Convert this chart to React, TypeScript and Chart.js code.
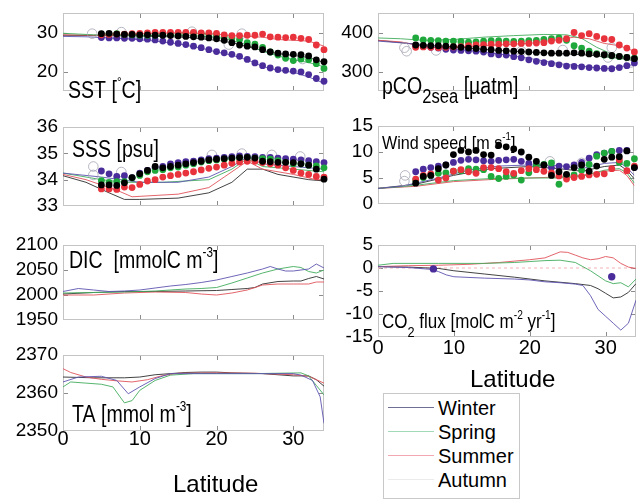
import React, { useEffect, useRef } from "react";
import { Chart, registerables } from "chart.js";
Chart.register(...registerables);

const FONT = '"Liberation Sans", Arial, Helvetica, sans-serif';

const SEASONS = ["Winter", "Spring", "Summer", "Autumn"];
const DOT_COLORS = ["#4b2c9b", "#1fa83c", "#e8323c", "#000000"];
const LINE_COLORS = ["#5e55b0", "#43ad5e", "#e0535b", "#2e2e2e"];
const LEGEND_COLORS = ["#6f6f93", "#a2d9b8", "#f2a8b0", "#ebebeb"];

const X_TICKS = [0, 10, 20, 30];
const LAT_OBS = [5, 6, 7, 8, 9, 10, 11, 12, 13, 14, 15, 16, 17, 18, 19, 20, 21, 22, 23, 24, 25, 26, 27, 28, 29, 30, 31, 32, 33, 34];

// ---------- SST ----------
const SST_TICKS = [20, 30];
const SST_WINTER = [28.7, 28.6, 28.6, 28.5, 28.5, 28.4, 28.3, 28.1, 27.8, 27.5, 27.2, 26.9, 26.5, 26.1, 25.6, 25.1, 24.8, 24.4, 23.9, 23.1, 22.2, 21.5, 20.9, 20.5, 20.3, 20.1, 19.9, 19.2, 18.2, 17.5];
const SST_SPRING = [29.6, 29.6, 29.7, 29.5, 29.4, 29.3, 29.3, 29.3, 29.4, 29.5, 29.6, 29.7, 29.8, 29.7, 29.5, 29.2, 28.9, 28.6, 28.2, 27.4, 27.0, 26.2, 25.0, 24.2, 23.4, 22.8, 23.2, 23.0, 22.0, 20.8];
const SST_SUMMER = [29.4, 29.5, 29.6, 29.6, 29.7, 29.8, 29.9, 30.0, 30.0, 30.0, 30.0, 30.0, 30.0, 29.9, 29.9, 29.8, 29.4, 29.2, 29.2, 29.3, 29.3, 29.6, 28.9, 28.8, 28.7, 28.8, 28.5, 28.2, 26.8, 25.6];
const SST_AUTUMN = [29.7, 29.8, 29.6, 29.5, 29.5, 29.4, 29.4, 29.3, 29.3, 29.2, 29.1, 29.0, 28.9, 28.8, 28.6, 28.4, 28.0, 27.4, 26.8, 26.5, 26.3, 25.6, 25.0, 24.7, 24.5, 24.4, 24.3, 24.0, 23.0, 22.5];
const SST_OPEN = [[3.8, 29.7], [7.6, 30.1], [16.8, 30.2], [21.6, 26.9], [23.3, 29.7], [31.2, 23.2]];
const SST_LINE_W = [[0, 29.0], [3, 28.9], [6, 28.6], [9, 28.3], [12, 27.8], [15, 27.1], [18, 26.0], [20, 25.0], [22, 24.2], [24, 23.0], [26, 21.3], [28, 20.3], [30, 19.8], [32, 18.6], [34, 17.0]];
const SST_LINE_SP = [[0, 29.8], [2, 29.6], [4, 29.4], [8, 29.3], [12, 29.2], [16, 29.3], [20, 28.8], [22, 28.0], [24, 26.8], [26, 25.2], [28, 24.0], [30, 23.0], [32, 22.3], [34, 21.2]];
const SST_LINE_SU = [[0, 29.4], [4, 29.3], [8, 29.5], [12, 29.8], [16, 29.9], [20, 29.6], [22, 29.2], [24, 29.0], [26, 28.8], [28, 28.2], [30, 28.0], [32, 27.8], [34, 26.5]];
const SST_LINE_AU = [[0, 29.3], [4, 29.2], [8, 29.2], [12, 29.0], [16, 28.8], [20, 28.0], [22, 27.4], [24, 26.4], [26, 25.4], [28, 24.6], [30, 24.1], [32, 23.6], [34, 22.3]];

// ---------- pCO2 ----------
const PCO2_TICKS = [300, 400];
const PCO2_WINTER = [366, 364, 362, 360, 357, 355, 354, 353, 352, 350, 345, 343, 342, 338, 335, 330, 326, 323, 320, 317, 314, 313, 312, 310, 309, 308, 307, 310, 315, 322];
const PCO2_SPRING = [386, 381, 380, 379, 378, 378, 377, 375, 376, 378, 379, 379, 378, 377, 378, 379, 380, 382, 384, 386, 380, 366, 360, 352, 346, 342, 340, 338, 336, 334];
const PCO2_SUMMER = [362, 363, 362, 361, 362, 363, 364, 366, 368, 369, 370, 370, 371, 371, 372, 372, 373, 374, 378, 380, 384, 400, 392, 397, 390, 384, 382, 368, 360, 350];
const PCO2_AUTUMN = [368, 367, 366, 366, 365, 364, 362, 360, 359, 357, 356, 354, 353, 352, 351, 350, 349, 348, 347, 347, 347, 348, 347, 345, 344, 343, 341, 339, 336, 333];
const PCO2_OPEN = [[3.5, 361], [3.8, 352], [7.7, 354], [19, 352], [24.5, 355], [30.5, 336], [31, 361], [33.5, 323]];
const PCO2_LINE_W = [[0, 378], [4, 372], [8, 362], [12, 354], [16, 345], [20, 334], [24, 320], [28, 312], [30, 306], [32, 312], [34, 318]];
const PCO2_LINE_SP = [[0, 386], [3, 384], [6, 380], [10, 382], [14, 388], [18, 392], [22, 395], [25, 394], [27, 385], [29, 362], [31, 345], [34, 330]];
const PCO2_LINE_SU = [[0, 380], [3, 376], [5, 368], [8, 360], [12, 364], [16, 368], [20, 372], [24, 382], [26, 388], [28, 384], [30, 372], [32, 366], [34, 352]];
const PCO2_LINE_AU = [[0, 380], [4, 372], [8, 366], [12, 360], [16, 354], [20, 350], [24, 346], [28, 342], [30, 338], [32, 334], [34, 328]];

// ---------- SSS ----------
const SSS_TICKS = [33, 34, 35, 36];
const SSS_WINTER = [34.33, 34.22, 34.12, 34.15, 34.08, 34.25, 34.35, 34.45, 34.5, 34.6, 34.65, 34.68, 34.7, 34.75, 34.8, 34.82, 34.85, 34.87, 34.9, 34.88, 34.87, 34.85, 34.85, 34.82, 34.8, 34.78, 34.75, 34.72, 34.68, 34.65];
const SSS_SPRING = [33.96, 33.9, 33.92, 33.92, 34.06, 34.16, 34.3, 34.35, 34.38, 34.45, 34.48, 34.55, 34.6, 34.67, 34.72, 34.75, 34.78, 34.8, 34.82, 34.84, 34.82, 34.8, 34.78, 34.72, 34.65, 34.6, 34.6, 34.55, 34.52, 34.45];
const SSS_SUMMER = [33.65, 33.65, 33.63, 33.72, 33.7, 33.82, 33.95, 34.0, 34.1, 34.15, 34.2, 34.25, 34.3, 34.37, 34.43, 34.48, 34.55, 34.62, 34.67, 34.7, 34.7, 34.65, 34.6, 34.55, 34.45, 34.35, 34.25, 34.2, 34.12, 34.1];
const SSS_AUTUMN = [33.8, 33.8, 33.78, 33.88, 34.08, 34.22, 34.35, 34.5, 34.45, 34.5, 34.55, 34.6, 34.65, 34.7, 34.75, 34.78, 34.8, 34.82, 34.84, 34.85, 34.82, 34.7, 34.68, 34.66, 34.66, 34.65, 34.6, 34.55, 34.4, 34.02];
const SSS_OPEN = [[3.95, 34.5], [3.95, 34.18], [7.6, 34.29], [19.4, 34.94], [23.3, 34.99], [27.2, 34.94], [30.9, 34.88]];
const SSS_LINE_W = [[0, 34.25], [5, 34.1], [10, 33.9], [15, 33.9], [19, 34.1], [22, 34.5], [24, 34.85], [26, 34.6], [30, 34.5], [34, 34.4]];
const SSS_LINE_SP = [[0, 34.25], [5, 34.0], [8, 33.9], [13, 33.9], [19, 34.0], [22, 34.4], [24, 34.8], [26, 34.5], [30, 34.4], [34, 34.3]];
const SSS_LINE_SU = [[0, 34.2], [3, 34.0], [7, 33.6], [9, 33.35], [15, 33.45], [19, 33.7], [21, 34.1], [24, 34.7], [26, 34.4], [30, 34.2], [33, 34.0], [34, 34.0]];
const SSS_LINE_AU = [[0, 34.15], [3, 33.9], [6, 33.5], [8, 33.25], [10, 33.25], [15, 33.3], [19, 33.5], [22, 33.9], [24, 34.4], [26, 34.4], [28, 34.2], [32, 34.0], [34, 33.95]];

// ---------- Wind ----------
const WIND_TICKS = [0, 5, 10, 15];
const WIND_WINTER = [6.2, 6.7, 7.0, 7.3, 7.5, 8.0, 8.4, 8.6, 8.5, 8.3, 8.2, 8.4, 8.5, 8.6, 8.2, 7.8, 7.6, 7.4, 7.0, 7.3, 7.2, 7.5, 8.0, 8.8, 9.5, 9.8, 10.1, 10.3, 10.3, 7.0];
const WIND_SPRING = [4.6, 5.1, 5.5, 5.9, 6.0, 6.3, 6.4, 6.8, 6.7, 6.6, 5.3, 4.9, 5.3, 5.6, 4.6, 6.0, 7.4, 7.6, 7.9, 3.8, 5.5, 5.6, 6.5, 7.6, 9.2, 9.8, 10.1, 8.0, 7.8, 8.7];
const WIND_SUMMER = [4.8, 5.5, 5.8, 4.6, 5.0, 6.3, 6.6, 6.2, 5.9, 7.0, 7.0, 6.8, 6.2, 5.9, 6.4, 6.8, 6.6, 6.3, 6.0, 5.4, 4.8, 5.1, 5.3, 5.6, 5.7, 5.8, 6.8, 8.5, 6.4, 7.3];
const WIND_AUTUMN = [4.0, 5.3, 5.5, 6.8, 7.5, 9.5, 10.3, 10.0, 10.3, 9.5, 9.4, 11.3, 11.0, 10.6, 10.0, 9.0, 8.2, 7.5, 5.5, 6.2, 5.7, 7.0, 7.5, 6.3, 7.3, 8.6, 9.0, 9.1, 10.2, 7.0];
const WIND_OPEN = [[3.5, 4.4], [3.6, 5.5], [22.8, 8.2], [27.0, 7.9]];
const WIND_LINE_W = [[0, 3.0], [3, 3.4], [5, 4.0], [8, 5.0], [12, 6.5], [16, 7.3], [20, 7.5], [24, 7.4], [27, 6.8], [30, 7.8], [32, 8.0], [33, 7.0], [34, 5.5]];
const WIND_LINE_SP = [[0, 3.0], [3, 3.3], [5, 3.6], [10, 4.5], [15, 4.9], [20, 5.0], [24, 5.0], [27, 5.3], [30, 6.5], [32, 6.8], [33, 6.0], [34, 4.0]];
const WIND_LINE_SU = [[0, 3.0], [5, 3.4], [10, 4.3], [15, 4.7], [20, 5.0], [24, 5.2], [27, 5.5], [30, 6.3], [32, 6.5], [33, 5.5], [34, 3.5]];
const WIND_LINE_AU = [[0, 3.0], [5, 3.8], [10, 5.5], [15, 6.8], [20, 7.2], [24, 6.8], [27, 6.3], [30, 7.2], [32, 7.5], [33, 6.5], [34, 4.8]];

// ---------- DIC ----------
const DIC_TICKS = [1950, 2000, 2050, 2100];
const DIC_LINE_W = [[0, 2007], [2, 2013], [4, 2010], [6, 2007], [8, 2008], [10, 2010], [12, 2014], [14, 2018], [16, 2021], [18, 2025], [20, 2030], [22, 2037], [24, 2044], [26, 2052], [27, 2057], [28, 2052], [29, 2048], [30, 2048], [31, 2050], [32, 2052], [33, 2062], [34, 2054]];
const DIC_LINE_SP = [[0, 2004], [4, 2005], [8, 2006], [10, 2007], [12, 2008], [14, 2010], [16, 2012], [18, 2013], [20, 2015], [22, 2024], [24, 2034], [26, 2044], [28, 2052], [30, 2057], [31, 2055], [32, 2047], [33, 2044], [34, 2050]];
const DIC_LINE_SU = [[0, 2000], [4, 2000], [8, 2004], [12, 2006], [16, 2005], [18, 2002], [20, 2000], [22, 2004], [24, 2010], [26, 2020], [28, 2022], [30, 2022], [32, 2022], [33, 2026], [34, 2026]];
const DIC_LINE_AU = [[0, 2002], [4, 2005], [8, 2007], [12, 2007], [16, 2008], [20, 2009], [22, 2011], [24, 2013], [25, 2015], [26, 2022], [28, 2027], [30, 2028], [31, 2028], [32, 2033], [33, 2037], [34, 2032]];

// ---------- CO2 flux ----------
const FLUX_TICKS = [-15, -10, -5, 0, 5];
const FLUX_OBS_WINTER = [[7.3, -0.2], [30.8, -1.9]];
const FLUX_ZERO = [[0, 0], [34, 0]];
const FLUX_LINE_W = [[0, 0.3], [4, 0.1], [7, -0.3], [8, -0.8], [9, -1.5], [10, -1.9], [14, -2.2], [18, -2.4], [20, -2.6], [22, -3.0], [24, -3.2], [26, -3.5], [27, -3.8], [28, -6.0], [29, -9.0], [30, -10.5], [31, -12.0], [32, -13.5], [33, -12.0], [34, -7.0]];
const FLUX_LINE_SP = [[0, 0.6], [2, 1.0], [8, 1.0], [14, 1.0], [18, 1.2], [20, 1.4], [22, 1.6], [24, 1.7], [26, 1.2], [27, 0.3], [28, -0.6], [29, -1.7], [30, -2.8], [31, -3.4], [32, -3.2], [33, -4.1], [34, -2.4]];
const FLUX_LINE_SU = [[0, 0.3], [4, 0.5], [8, 0.6], [12, 0.8], [16, 1.2], [20, 1.8], [22, 2.2], [24, 3.5], [25, 3.4], [26, 2.8], [27, 2.2], [28, 1.8], [29, 2.0], [30, 2.5], [31, 2.2], [32, 1.0], [33, 0.2], [34, -0.1]];
const FLUX_LINE_AU = [[0, 0.3], [4, 0.2], [8, -0.1], [10, -0.6], [14, -1.3], [18, -2.0], [22, -2.8], [26, -3.4], [28, -3.8], [29, -4.5], [30, -5.5], [31, -6.5], [32, -6.3], [33, -5.3], [34, -3.4]];

// ---------- TA ----------
const TA_TICKS = [2350, 2360, 2370];
const TA_LINE_W = [[0, 2362.9], [2, 2364.2], [5, 2364.4], [7, 2363.3], [8.5, 2359.8], [10, 2361.6], [12, 2363.8], [14, 2365.1], [20, 2365.1], [30, 2365.1], [31, 2364.7], [32.5, 2363.3], [33.5, 2359.0], [34, 2352.0]];
const TA_LINE_SP = [[0, 2361.6], [1, 2362.9], [3, 2362.6], [5, 2362.3], [6.5, 2361.6], [8, 2357.4], [9, 2358.0], [10, 2360.7], [12, 2363.3], [14, 2364.7], [17, 2365.1], [25, 2365.1], [31, 2365.3], [32, 2364.5], [33, 2362.0], [34, 2359.5]];
const TA_LINE_SU = [[0, 2366.4], [1, 2365.4], [3, 2364.2], [5, 2363.6], [7, 2363.2], [9, 2362.9], [11, 2363.5], [13, 2364.6], [15, 2365.2], [20, 2365.3], [25, 2365.2], [30, 2364.8], [32, 2364.4], [33, 2363.5], [34, 2362.6]];
const TA_LINE_AU = [[0, 2364.2], [2, 2364.1], [4, 2364.0], [6, 2364.0], [8, 2364.0], [10, 2364.2], [12, 2364.8], [14, 2365.1], [16, 2365.4], [18, 2365.5], [20, 2365.5], [22, 2365.3], [24, 2365.2], [26, 2365.1], [28, 2364.8], [30, 2364.5], [32, 2364.5], [33, 2363.5], [34, 2361.8]];

type Part = string | { t: string; s?: number; dy?: number };
type TextItem = { x: number; y: number; size: number; sx?: number; parts: Part[] };
type Panel = {
  id: string;
  canvas: { x: number; y: number; w: number; h: number };
  plot: { l: number; t: number; r: number; b: number };
  yMin: number;
  yMax: number;
  yTicks: number[];
  showX: boolean;
  xPad?: number;
  dots?: number[][];
  lines: number[][][];
  open?: number[][];
  extraDots?: number[][];
  zero?: number[][];
  texts: TextItem[];
};

const PANELS: Panel[] = [
  {
    id: "sst", canvas: { x: 0, y: 0, w: 332, h: 119 }, plot: { l: 63, t: 13, r: 324, b: 105 },
    yMin: 15, yMax: 35, yTicks: SST_TICKS, showX: false,
    dots: [SST_WINTER, SST_SPRING, SST_SUMMER, SST_AUTUMN],
    lines: [SST_LINE_W, SST_LINE_SP, SST_LINE_SU, SST_LINE_AU], open: SST_OPEN,
    texts: [{ x: 68, y: 98, size: 23, sx: 0.85, parts: ["SST [", { t: "°", s: 0.6, dy: -11 }, "C]"] }],
  },
  {
    id: "pco2", canvas: { x: 330, y: 0, w: 310, h: 119 }, plot: { l: 378, t: 13, r: 637, b: 105 },
    yMin: 250, yMax: 450, yTicks: PCO2_TICKS, showX: false,
    dots: [PCO2_WINTER, PCO2_SPRING, PCO2_SUMMER, PCO2_AUTUMN],
    lines: [PCO2_LINE_W, PCO2_LINE_SP, PCO2_LINE_SU, PCO2_LINE_AU], open: PCO2_OPEN,
    texts: [{ x: 382, y: 94, size: 23, sx: 0.85, parts: ["pCO", { t: "2sea", s: 0.85, dy: 9 }, " [µatm]"] }],
  },
  {
    id: "sss", canvas: { x: 0, y: 113, w: 332, h: 121 }, plot: { l: 63, t: 127, r: 324, b: 220 },
    yMin: 33, yMax: 36, yTicks: SSS_TICKS, showX: false,
    dots: [SSS_WINTER, SSS_SPRING, SSS_SUMMER, SSS_AUTUMN],
    lines: [SSS_LINE_W, SSS_LINE_SP, SSS_LINE_SU, SSS_LINE_AU], open: SSS_OPEN,
    texts: [{ x: 72, y: 157, size: 23, sx: 0.85, parts: ["SSS [psu]"] }],
  },
  {
    id: "wind", canvas: { x: 330, y: 112, w: 310, h: 120 }, plot: { l: 378, t: 126, r: 637, b: 218 },
    yMin: 0, yMax: 15, yTicks: WIND_TICKS, showX: false,
    dots: [WIND_WINTER, WIND_SPRING, WIND_SUMMER, WIND_AUTUMN],
    lines: [WIND_LINE_W, WIND_LINE_SP, WIND_LINE_SU, WIND_LINE_AU], open: WIND_OPEN,
    texts: [{ x: 382, y: 149, size: 19, sx: 0.85, parts: ["Wind speed [m s", { t: "-1", s: 0.6, dy: -9 }, "]"] }],
  },
  {
    id: "dic", canvas: { x: 0, y: 231, w: 332, h: 117 }, plot: { l: 63, t: 245, r: 324, b: 334 },
    yMin: 1950, yMax: 2100, yTicks: DIC_TICKS, showX: false,
    lines: [DIC_LINE_W, DIC_LINE_SP, DIC_LINE_SU, DIC_LINE_AU],
    texts: [{ x: 69, y: 268, size: 23, sx: 0.85, parts: ["DIC  [mmolC m", { t: "-3", s: 0.6, dy: -11 }, "]"] }],
  },
  {
    id: "flux", canvas: { x: 330, y: 231, w: 310, h: 162 }, plot: { l: 378, t: 245, r: 637, b: 337 },
    yMin: -15, yMax: 5, yTicks: FLUX_TICKS, showX: true, xPad: 1,
    lines: [FLUX_LINE_W, FLUX_LINE_SP, FLUX_LINE_SU, FLUX_LINE_AU], extraDots: FLUX_OBS_WINTER, zero: FLUX_ZERO,
    texts: [
      { x: 382, y: 328, size: 20, sx: 0.85, parts: ["CO", { t: "2", s: 0.75, dy: 9 }, " flux [molC m", { t: "-2", s: 0.6, dy: -9 }, " yr", { t: "-1", s: 0.6, dy: -9 }, "]"] },
      { x: 470, y: 387, size: 24, parts: ["Latitude"] },
    ],
  },
  {
    id: "ta", canvas: { x: 0, y: 341, w: 332, h: 158 }, plot: { l: 63, t: 355, r: 324, b: 431 },
    yMin: 2350, yMax: 2370, yTicks: TA_TICKS, showX: true, xPad: -2,
    lines: [TA_LINE_W, TA_LINE_SP, TA_LINE_SU, TA_LINE_AU],
    texts: [
      { x: 72, y: 422, size: 23, sx: 0.85, parts: ["TA [mmol m", { t: "-3", s: 0.6, dy: -11 }, "]"] },
      { x: 173, y: 492, size: 24, parts: ["Latitude"] },
    ],
  },
];

const pts = (arr: number[][]) => arr.map(([x, y]) => ({ x, y }));

function makeBoxPlugin(p: Panel) {
  return {
    id: "panelBox",
    beforeDatasetsDraw(chart: any) {
      const { ctx, chartArea } = chart;
      const { left, top, right, bottom } = chartArea;
      const xs = chart.scales.x;
      const ys = chart.scales.y;
      ctx.save();
      ctx.lineWidth = 1;
      ctx.strokeStyle = "#c4c4c4";
      ctx.strokeRect(Math.round(left) + 0.5, Math.round(top) + 0.5, Math.round(right) - Math.round(left) - 1, Math.round(bottom) - Math.round(top) - 1);
      ctx.strokeStyle = "#8c8c8c";
      ctx.beginPath();
      X_TICKS.forEach((v) => {
        const px = Math.round(xs.getPixelForValue(v)) + 0.5;
        if (px <= left + 2 || px >= right - 2) return;
        ctx.moveTo(px, bottom - 1);
        ctx.lineTo(px, bottom - 5);
        ctx.moveTo(px, top + 1);
        ctx.lineTo(px, top + 5);
      });
      p.yTicks.forEach((v) => {
        const py = Math.round(ys.getPixelForValue(v)) + 0.5;
        if (py <= top + 2 || py >= bottom - 2) return;
        ctx.moveTo(left + 1, py);
        ctx.lineTo(left + 5, py);
        ctx.moveTo(right - 1, py);
        ctx.lineTo(right - 5, py);
      });
      ctx.stroke();
      ctx.restore();
    },
  };
}

function makeTextPlugin(p: Panel) {
  return {
    id: "panelText",
    afterDraw(chart: any) {
      const ctx = chart.ctx;
      p.texts.forEach((it) => {
        ctx.save();
        ctx.translate(it.x - p.canvas.x, it.y - p.canvas.y);
        ctx.scale(it.sx ?? 1, 1);
        let cx = 0;
        it.parts.forEach((raw) => {
          const part = typeof raw === "string" ? { t: raw } : raw;
          const size = it.size * (part.s ?? 1);
          ctx.font = `${size}px ${FONT}`;
          ctx.fillStyle = "#000";
          ctx.textAlign = "left";
          ctx.textBaseline = "alphabetic";
          ctx.fillText(part.t, cx, part.dy ?? 0);
          cx += ctx.measureText(part.t).width;
        });
        ctx.restore();
      });
    },
  };
}

function buildConfig(p: Panel): any {
  const datasets: any[] = [];
  p.lines.forEach((line, i) => {
    datasets.push({
      label: SEASONS[i] + " model",
      data: pts(line),
      showLine: true,
      borderColor: LINE_COLORS[i],
      borderWidth: 0.9,
      pointRadius: 0,
      tension: 0,
      order: 20 + i,
    });
  });
  if (p.zero) {
    datasets.push({
      label: "zero",
      data: pts(p.zero),
      showLine: true,
      borderColor: "#f4b4b8",
      borderWidth: 1,
      borderDash: [3, 3],
      pointRadius: 0,
      order: 30,
    });
  }
  if (p.open) {
    datasets.push({
      label: "open",
      data: pts(p.open),
      showLine: false,
      pointRadius: 4.8,
      pointBackgroundColor: "rgba(0,0,0,0)",
      pointBorderColor: "#a4a4b4",
      pointBorderWidth: 0.8,
      order: 10,
      clip: false,
    });
  }
  if (p.dots) {
    p.dots.forEach((vals, i) => {
      datasets.push({
        label: SEASONS[i],
        data: LAT_OBS.map((x, k) => ({ x, y: vals[k] })),
        showLine: false,
        pointRadius: 3.4,
        pointBackgroundColor: DOT_COLORS[i],
        pointBorderColor: DOT_COLORS[i],
        pointBorderWidth: 0,
        order: 3 - i,
        clip: false,
      });
    });
  }
  if (p.extraDots) {
    datasets.push({
      label: "Winter obs",
      data: pts(p.extraDots),
      showLine: false,
      pointRadius: 3.7,
      pointBackgroundColor: DOT_COLORS[0],
      pointBorderWidth: 0,
      order: 0,
    });
  }

  const c = p.canvas;
  return {
    type: "scatter",
    data: { datasets },
    options: {
      animation: false,
      responsive: false,
      maintainAspectRatio: false,
      devicePixelRatio: 1,
      events: [],
      layout: {
        padding: {
          left: 0,
          top: p.plot.t - c.y,
          right: c.x + c.w - p.plot.r,
          bottom: p.showX ? 0 : c.y + c.h - p.plot.b,
        },
      },
      plugins: { legend: { display: false }, tooltip: { enabled: false }, title: { display: false } },
      scales: {
        x: {
          type: "linear",
          min: 0,
          max: 34,
          display: p.showX,
          afterBuildTicks: (axis: any) => {
            axis.ticks = X_TICKS.map((v) => ({ value: v }));
          },
          afterFit: (axis: any) => {
            axis.height = c.y + c.h - p.plot.b;
          },
          grid: { display: false, drawTicks: false },
          border: { display: false },
          ticks: {
            color: "#000",
            font: { family: FONT, size: 20, lineHeight: 1 },
            padding: p.xPad ?? 0,
            maxRotation: 0,
            autoSkip: false,
            callback: (v: any) => String(v),
          },
        },
        y: {
          type: "linear",
          min: p.yMin,
          max: p.yMax,
          afterBuildTicks: (axis: any) => {
            axis.ticks = p.yTicks.map((v) => ({ value: v }));
          },
          afterFit: (axis: any) => {
            axis.width = p.plot.l - c.x;
          },
          grid: { display: false, drawTicks: true, tickLength: 5 },
          border: { display: false },
          ticks: {
            color: "#000",
            font: { family: FONT, size: 19, lineHeight: 1 },
            padding: 0,
            autoSkip: false,
            callback: (v: any) => String(v),
          },
        },
      },
    },
    plugins: [makeBoxPlugin(p), makeTextPlugin(p)],
  };
}

const LEGEND_ROWS = [409, 433, 457, 481];

export default function App() {
  const refs = useRef<(HTMLCanvasElement | null)[]>([]);
  useEffect(() => {
    const charts = PANELS.map((p, i) => new Chart(refs.current[i] as HTMLCanvasElement, buildConfig(p)));
    return () => charts.forEach((ch) => ch.destroy());
  }, []);

  return (
    <div style={{ position: "absolute", left: 0, top: 0, width: 640, height: 499, background: "#fff", overflow: "hidden" }}>
      {PANELS.map((p, i) => (
        <canvas
          key={p.id}
          ref={(el) => {
            refs.current[i] = el;
          }}
          width={p.canvas.w}
          height={p.canvas.h}
          style={{ position: "absolute", left: p.canvas.x, top: p.canvas.y, width: p.canvas.w, height: p.canvas.h }}
        />
      ))}
      <div
        style={{
          position: "absolute",
          left: 383,
          top: 393,
          width: 137,
          height: 106,
          border: "1px solid #c8c8c8",
          boxSizing: "border-box",
          background: "#fff",
        }}
      >
        {SEASONS.map((s, i) => (
          <div key={s}>
            <div
              style={{
                position: "absolute",
                left: 4,
                top: LEGEND_ROWS[i] - 393 - 3,
                width: 46,
                height: 0,
                borderTop: `1px solid ${LEGEND_COLORS[i]}`,
              }}
            />
            <div
              style={{
                position: "absolute",
                left: 54,
                top: LEGEND_ROWS[i] - 393 - 13,
                fontFamily: FONT,
                fontSize: 20,
                lineHeight: "22px",
                color: "#000",
                whiteSpace: "nowrap",
              }}
            >
              {s}
            </div>
          </div>
        ))}
      </div>
    </div>
  );
}
